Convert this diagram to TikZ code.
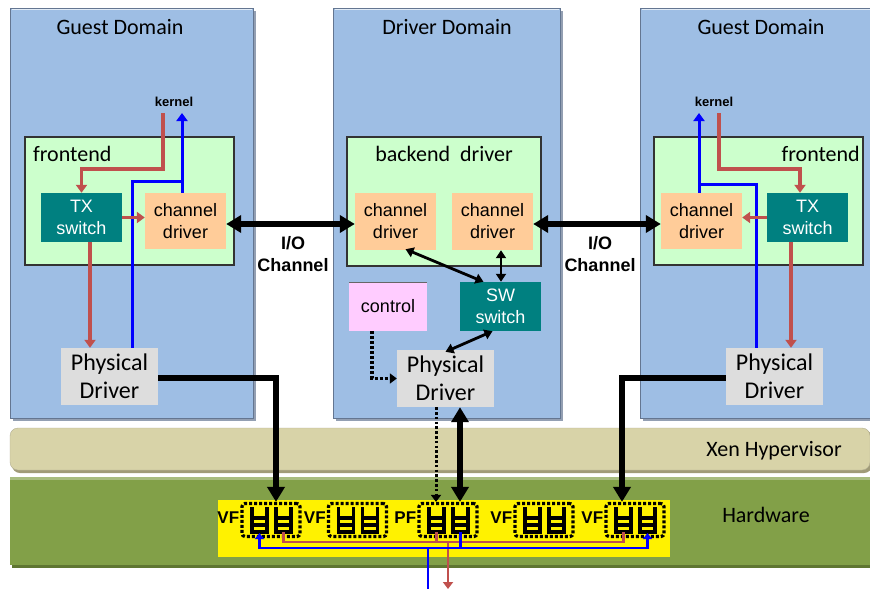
\documentclass[tikz,border=0pt]{standalone}
\usepackage{fontspec}
\setmainfont{Liberation Sans}
\newfontfamily\calfont{Carlito}
\usetikzlibrary{arrows.meta,calc}
\definecolor{dom}{RGB}{158,190,228}
\definecolor{domdark}{RGB}{100,118,145}
\definecolor{fe}{RGB}{204,255,204}
\definecolor{tealb}{RGB}{0,128,128}
\definecolor{orng}{RGB}{255,204,153}
\definecolor{pnk}{RGB}{255,204,255}
\definecolor{pgray}{RGB}{221,221,221}
\definecolor{redl}{RGB}{192,80,77}
\definecolor{xen}{RGB}{216,211,168}
\definecolor{xendark}{RGB}{160,155,120}
\definecolor{hw}{RGB}{130,160,72}
\definecolor{hwdark}{RGB}{95,118,50}
\begin{document}
\begin{tikzpicture}[x=1pt,y=-1pt,
  dombox/.style={fill=dom, draw=domdark, line width=1pt},
  febox/.style={fill=fe, draw=black!80, line width=1.2pt, inner sep=0pt},
  tealbox/.style={fill=tealb, text=white, font=\fontsize{18}{22}\selectfont, align=center, inner sep=0pt},
  chbox/.style={fill=orng, font=\fontsize{18}{22}\selectfont, align=center, inner sep=0pt},
  ctrlbox/.style={fill=pnk, font=\fontsize{18}{22}\selectfont, align=center, inner sep=0pt},
  phys/.style={fill=pgray, font=\calfont\fontsize{24}{28}\selectfont, align=center, inner sep=0pt},
  ttl/.style={font=\calfont\fontsize{22}{24}\selectfont, inner sep=0pt},
  kern/.style={font=\bfseries\fontsize{13}{15}\selectfont, inner sep=0pt},
  iolbl/.style={font=\bfseries\fontsize{18}{22}\selectfont, align=center, inner sep=0pt},
  vf/.style={font=\bfseries\fontsize{17}{19}\selectfont, inner sep=0pt},
  qgroup/.style={draw=black, line width=3.2pt, dash pattern=on 3pt off 2pt, rounded corners=3pt, minimum width=58pt, minimum height=33pt, inner sep=0pt},
  bigarr/.style={line width=6pt, -{Triangle[length=15pt,width=17pt]}},
  bigboth/.style={line width=6pt, {Triangle[length=15pt,width=17pt]}-{Triangle[length=15pt,width=17pt]}},
  smallboth/.style={line width=2.8pt, {Triangle[length=8pt,width=10pt]}-{Triangle[length=8pt,width=10pt]}},
  redarr/.style={draw=redl, line width=3.6pt, -{Triangle[length=8pt,width=11pt]}},
  bluarr/.style={draw=blue, line width=3pt, -{Triangle[length=8pt,width=11pt]}},
  bluline/.style={draw=blue, line width=3pt},
  hwred/.style={draw=redl, line width=2.8pt},
  hwblue/.style={draw=blue, line width=2.8pt},
  queue/.pic={
    \draw[line width=3.2pt, line cap=rect] (-7.5,-11.5) -- (-7.5,12) -- (7.5,12) -- (7.5,-11.5);
    \draw[line width=3.2pt] (-7.5,-2) -- (7.5,-2) (-7.5,5) -- (7.5,5);
  }
]
\useasboundingbox (0,0) rectangle (870,589);
\fill[white] (0,0) rectangle (870,589);

% ---------- domains ----------
\foreach \xa/\xb in {10/253, 333/560, 640/880}{
  \fill[domdark!70] (\xa+3,11) rectangle (\xb+3,421);
  \draw[dombox] (\xa,8) rectangle (\xb,418);
  \draw[white!70!dom, line width=1.5pt] (\xa+1.5,9.5) -- (\xb-1.5,9.5);
}
\node[ttl] (tGL) at (120,27) {Guest Domain};
\node[ttl] (tD) at (447,27) {Driver Domain};
\node[ttl] (tGR) at (761,27) {Guest Domain};

% ---------- hypervisor and hardware ----------
\fill[xendark, rounded corners=8pt] (12,430) rectangle (872,473);
\node[fill=xen, draw=xendark!80, rounded corners=8pt, minimum width=860pt, minimum height=42pt, inner sep=0pt] (xenbar) at (440,449) {};
\node[ttl] (xenlbl) at (774,451) {Xen Hypervisor};
\fill[hwdark] (12,479) rectangle (872,568);
\node[fill=hw, minimum width=860pt, minimum height=88pt, inner sep=0pt] (hwbar) at (440,521) {};
\fill[hw!70!white] (10,477) rectangle (870,480);
\node[ttl] (hwlbl) at (766,515) {Hardware};
\node[fill=yellow, minimum width=452pt, minimum height=57pt, inner sep=0pt] (yel) at (444,528.5) {};

% ---------- left guest ----------
\node[febox, minimum width=209pt, minimum height=128pt] (feL) at (129.5,201) {};
\node[ttl, anchor=west] (feLt) at (33,154) {frontend};
\node[tealbox, minimum width=81pt, minimum height=49pt] (txL) at (81.5,217.5) {TX\\switch};
\node[chbox, minimum width=81pt, minimum height=56pt] (chL) at (185.5,221) {channel\\driver};
\node[phys, minimum width=97pt, minimum height=57pt] (phL) at (109.5,376.5) {Physical\\Driver};
\node[kern] (kL) at (174,102) {kernel};
\coordinate (kLr) at (163,113);
\coordinate (kLb) at (182,113);
\coordinate (bL) at (132,181);

\draw[redarr] (kLr) |- (81.5,169) -- (txL.north);
\draw[bluline] (phL.north -| bL) -- (bL) -- (kLb |- bL);
\draw[bluarr] (chL.north -| kLb) -- (kLb);
\draw[redarr] (txL.east) -- (chL.west |- txL.east);
\draw[redarr] (txL.south -| 90,0) -- (phL.north -| 90,0);

% ---------- driver domain ----------
\node[febox, minimum width=194pt, minimum height=129pt] (be) at (444,201.5) {};
\node[ttl] (bet) at (444,154) {backend\ \ driver};
\node[chbox, minimum width=81pt, minimum height=57pt] (cdA) at (395.5,221.5) {channel\\driver};
\node[chbox, minimum width=81pt, minimum height=57pt] (cdB) at (492.5,221.5) {channel\\driver};
\node[ctrlbox, minimum width=78pt, minimum height=49pt] (ctrl) at (388,306.5) {control};
\draw[black!60, line width=0.6pt] (ctrl.north west) -- (ctrl.north east);
\node[tealbox, minimum width=81pt, minimum height=49pt] (sw) at (500.5,306.5) {SW\\switch};
\node[phys, minimum width=97pt, minimum height=57pt] (phC) at (445.5,378.5) {Physical\\Driver};

\draw[smallboth] ($(cdA.south)+(10,-1)$) -- ($(sw.north)+(-17,0)$);
\draw[smallboth] (cdB.south -| 501,0) -- (sw.north -| 501,0);
\draw[smallboth] ($(sw.south)+(-8,0)$) -- ($(phC.north)+(0,2)$);
\draw[line width=3.2pt, dash pattern=on 3pt off 2pt, -{Triangle[length=7pt,width=10pt]}] ($(ctrl.south)+(-16,0)$) |- (phC.west);

% ---------- right guest ----------
\node[febox, minimum width=209pt, minimum height=128pt] (feR) at (758.5,201) {};
\node[ttl, anchor=east] (feRt) at (860,154) {frontend};
\node[chbox, minimum width=81pt, minimum height=56pt] (chR) at (701.5,221) {channel\\driver};
\node[tealbox, minimum width=81pt, minimum height=49pt] (txR) at (807.5,217.5) {TX\\switch};
\node[phys, minimum width=97pt, minimum height=57pt] (phR) at (774.5,376.5) {Physical\\Driver};
\node[kern] (kR) at (714,102) {kernel};
\coordinate (kRr) at (719,113);
\coordinate (kRb) at (699,113);
\coordinate (bR) at (756,184);

\draw[redarr] (kRr) |- (800,169) -- (txR.north -| 800,0);
\draw[bluarr] (chR.north -| kRb) -- (kRb);
\draw[bluline] (kRb |- bR) -- (bR) -- (phR.north -| bR);
\draw[redarr] (txR.west) -- (chR.east |- txR.west);
\draw[redarr] (txR.south -| 791,0) -- (phR.north -| 791,0);

% ---------- I/O channels ----------
\draw[bigboth] (chL.east |- 0,224) -- (cdA.west |- 0,224);
\draw[bigboth] (cdB.east |- 0,224) -- (chR.west |- 0,224);
\node[iolbl] (ioL) at (293,254) {I/O\\Channel};
\node[iolbl] (ioR) at (600,254) {I/O\\Channel};

% ---------- queue groups ----------
\node[qgroup] (g1) at (271,520) {};
\node[qgroup] (g2) at (357.5,520) {};
\node[qgroup] (g3) at (448,520) {};
\node[qgroup] (g4) at (544,520) {};
\node[qgroup] (g5) at (635,520) {};
\foreach \g in {g1,g2,g3,g4,g5}{
  \pic at ($(\g.center)+(-11.5,0)$) {queue};
  \pic at ($(\g.center)+(12.5,0)$) {queue};
}
\node[vf, anchor=east] (l1) at ($(g1.west)+(-1,-2)$) {VF};
\node[vf, anchor=east] (l2) at ($(g2.west)+(-1,-2)$) {VF};
\node[vf, anchor=east] (l3) at ($(g3.west)+(-1,-2)$) {PF};
\node[vf, anchor=east] (l4) at ($(g4.west)+(-1,-2)$) {VF};
\node[vf, anchor=east] (l5) at ($(g5.west)+(-1,-2)$) {VF};

% ---------- driver to hardware ----------
\draw[bigarr] (phL.east |- 0,378) -| (g1.north -| 276,0);
\draw[bigarr] (phR.west |- 0,378) -| (g5.north -| 622,0);
\draw[bigboth] (phC.south -| 460,0) -- (g3.north -| 460,0);
\draw[line width=3pt, dash pattern=on 2.6pt off 2.2pt, -{Triangle[length=7pt,width=10pt]}] (phC.south -| 436,0) -- (g3.north -| 436,0);

% ---------- hardware links ----------
\coordinate (hwout) at (448,589);
\coordinate (hwin) at (428,589);
\draw[hwred] (283.5,532) -- (283.5,542) -- (623.5,542) -- (623.5,532);
\draw[hwred] (436.5,532) -- (436.5,542);
\draw[hwred, -{Triangle[length=7pt,width=10pt]}] (hwout |- 0,542) -- (hwout);
\draw[hwblue, {Triangle[length=6pt,width=9pt]}-{Triangle[length=6pt,width=9pt]}] (259.5,533) -- (259.5,548) -- (647.5,548) -- (647.5,533);
\draw[hwblue] (460.5,532) -- (460.5,548);
\draw[hwblue] (hwin |- 0,548) -- (hwin);
\end{tikzpicture}
\end{document}
